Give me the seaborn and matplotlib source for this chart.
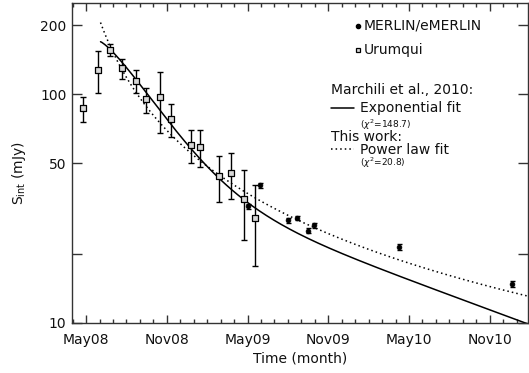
import numpy as np
import pandas as pd
import matplotlib
matplotlib.use("Agg")
import matplotlib.pyplot as plt
from matplotlib.ticker import FixedLocator, NullLocator, FixedFormatter
import seaborn as sns

# ---- data (time in months since Jan 2008; flux density in mJy) ----
ur_t = [3.78, 4.85, 5.76, 6.63, 7.71, 8.48, 9.47, 10.29, 11.77, 12.44, 13.87, 14.74, 15.71, 16.52]
ur_S = [86.9, 127.8, 156.3, 130.0, 114.7, 95.1, 97.0, 78.0, 60.0, 59.0, 43.9, 45.1, 34.9, 28.9]
ur_lo = [75.9, 101.0, 147.2, 116.7, 101.6, 82.6, 67.9, 64.8, 49.9, 47.9, 33.9, 34.8, 23.0, 17.8]
ur_hi = [97.6, 154.7, 166.5, 142.8, 127.8, 106.9, 125.6, 90.7, 69.8, 69.8, 53.9, 55.2, 46.9, 40.0]

me_t = [16.03, 16.90, 19.00, 19.66, 20.48, 20.93, 27.29, 35.63]
me_S = [32.4, 40.1, 28.2, 28.8, 25.3, 26.8, 21.5, 14.8]
me_err = [0.8, 1.0, 0.7, 0.7, 0.6, 0.7, 0.6, 0.4]

# Marchili et al. 2010 fit curve (parameters matched to the figure)
ex_t0, ex_A, ex_s, ex_p, ex_B, ex_tau = 5.07, 121.3, 4.54, 1.28, 48.5, 20.0
ex_range = (5.07, 36.9)

# power-law fit parameters: S = A (t - t0)^-b
pl_A, pl_t0, pl_b = 735.0, 2.0, 1.134
pl_range = (5.07, 36.9)

xtick_pos = [4, 10, 16, 22, 28, 34]
xtick_lab = ["May08", "Nov08", "May09", "Nov09", "May10", "Nov10"]
ytick_pos = [10, 20, 50, 100, 200]
ytick_lab = ["10", "", "50", "100", "200"]

# ---- figure ----
sns.set_style("ticks")
plt.rcParams["font.family"] = ["DejaVu Sans"]
plt.rcParams["mathtext.fontset"] = "dejavusans"

W, H = 529, 373
fig = plt.figure(figsize=(W / 100, H / 100), dpi=100)
ax = fig.add_axes([72 / W, 1 - 323 / H, (528 - 72) / W, (323 - 3.3) / H])

pl_t = np.linspace(pl_range[0], pl_range[1], 300)
pl_df = pd.DataFrame({"t": pl_t, "S": pl_A * (pl_t - pl_t0) ** (-pl_b)})
ex_tt = np.linspace(ex_range[0], ex_range[1], 300)
ex_x = ex_tt - ex_t0
ex_df = pd.DataFrame({"t": ex_tt,
                      "S": ex_A * np.exp(-(ex_x / ex_s) ** ex_p) + ex_B * np.exp(-ex_x / ex_tau)})

sns.lineplot(data=ex_df, x="t", y="S", ax=ax, color="black", lw=1.1,
             estimator=None, sort=True)
sns.lineplot(data=pl_df, x="t", y="S", ax=ax, color="black", lw=1.1,
             linestyle=(0, (1, 2)), estimator=None, sort=True)

ur_S_a = np.array(ur_S)
yerr_ur = [ur_S_a - np.array(ur_lo), np.array(ur_hi) - ur_S_a]
ax.errorbar(ur_t, ur_S, yerr=yerr_ur, fmt="none", ecolor="black",
            elinewidth=1.0, capsize=2.5, capthick=1.0, zorder=3)
ax.errorbar(me_t, me_S, yerr=me_err, fmt="none", ecolor="black",
            elinewidth=1.0, capsize=1.8, capthick=1.0, zorder=3)

sns.scatterplot(x=ur_t, y=ur_S, ax=ax, marker="s", s=18, color="#d8d8d8",
                edgecolor="black", linewidth=0.9, zorder=4)
sns.scatterplot(x=me_t, y=me_S, ax=ax, marker="o", s=12, color="black",
                edgecolor="black", linewidth=0.5, zorder=4)

ax.set_yscale("log")
ax.set_xlim(2.95, 36.85)
ax.set_ylim(10, 250)

ax.xaxis.set_major_locator(FixedLocator(xtick_pos))
ax.xaxis.set_major_formatter(FixedFormatter(xtick_lab))
ax.xaxis.set_minor_locator(FixedLocator(list(range(3, 37))))
ax.yaxis.set_major_locator(FixedLocator(ytick_pos))
ax.yaxis.set_major_formatter(FixedFormatter(ytick_lab))
ax.yaxis.set_minor_locator(NullLocator())

for s in ax.spines.values():
    s.set_visible(True)
    s.set_color("#333333")
    s.set_linewidth(1.0)

ax.tick_params(axis="both", which="major", direction="in", top=True, right=True,
               length=6, width=1.0, color="#333333", labelsize=10, labelcolor="#111111")
ax.tick_params(axis="x", which="major", pad=7)
ax.tick_params(axis="y", which="major", pad=4, length=7)
ax.tick_params(axis="x", which="minor", direction="in", top=True, length=3,
               width=1.0, color="#333333")

ax.set_xlabel("Time (month)", fontsize=10, color="#111111")
ax.set_ylabel(r"S$_{\rm int}$ (mJy)", fontsize=10, color="#111111")
ax.xaxis.set_label_coords(0.5, -0.088)
ax.yaxis.set_label_coords(-0.097, 0.47)

# ---- manual legend (figure pixel coordinates; text y = baseline) ----
def fx(px):
    return px / W

def fy(py):
    return 1 - py / H

tc = "#111111"
ax.plot([fx(358.3)], [fy(25.5)], marker="o", ms=3, color="black",
        transform=fig.transFigure, clip_on=False)
fig.text(fx(364), fy(29.5), "MERLIN/eMERLIN", fontsize=10, va="baseline", ha="left", color=tc)
ax.plot([fx(357.5)], [fy(50)], marker="s", ms=3.4, mfc="#d8d8d8", mec="black", mew=0.9,
        transform=fig.transFigure, clip_on=False)
fig.text(fx(364), fy(54), "Urumqui", fontsize=10, va="baseline", ha="left", color=tc)
fig.text(fx(331), fy(94), "Marchili et al., 2010:", fontsize=10, va="baseline", ha="left", color=tc)
ax.plot([fx(331), fx(354)], [fy(107.5), fy(107.5)], color="black", lw=1.1,
        transform=fig.transFigure, clip_on=False)
fig.text(fx(360), fy(112), "Exponential fit", fontsize=10, va="baseline", ha="left", color=tc)
fig.text(fx(360), fy(128), r"($\chi^2$=148.7)", fontsize=6.5, va="baseline", ha="left", color=tc)
fig.text(fx(331), fy(141.5), "This work:", fontsize=10, va="baseline", ha="left", color=tc)
ax.plot([fx(331), fx(354)], [fy(149), fy(149)], color="black", lw=1.1, linestyle=(0, (1, 2)),
        transform=fig.transFigure, clip_on=False)
fig.text(fx(360), fy(154), "Power law fit", fontsize=10, va="baseline", ha="left", color=tc)
fig.text(fx(360), fy(166.5), r"($\chi^2$=20.8)", fontsize=6.5, va="baseline", ha="left", color=tc)

fig.savefig("out.png", dpi=100)
